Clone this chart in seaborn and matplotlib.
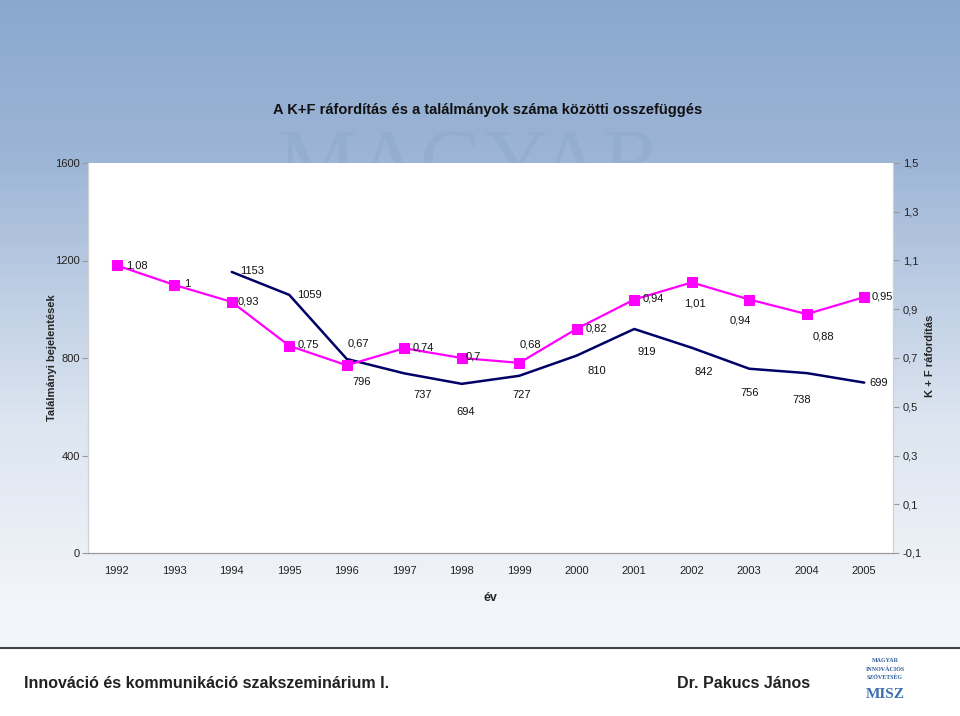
import matplotlib
matplotlib.use('Agg')
import matplotlib.pyplot as plt
import matplotlib.colors as mcolors
import seaborn as sns
import pandas as pd
import numpy as np

# adatok
evek = list(range(1992, 2006))
bejelentesek = [np.nan, np.nan, 1153, 1059, 796, 737, 694, 727, 810, 919, 842, 756, 738, 699]
kf_raf = [1.08, 1.0, 0.93, 0.75, 0.67, 0.74, 0.7, 0.68, 0.82, 0.94, 1.01, 0.94, 0.88, 0.95]
bal_tengely = [0, 400, 800, 1200, 1600]
jobb_tengely = [-0.1, 0.1, 0.3, 0.5, 0.7, 0.9, 1.1, 1.3, 1.5]

# cimkek eltolasa (pixel)
kf_off = [(20, 0), (13, 1), (17, 0), (19, 1), (12, 22), (19, 1), (12, 1), (11, 18),
          (20, 0), (19, 1), (3, -21), (-9, -21), (17, -22), (18, 1)]
bej_off = [None, None, (20, 1), (20, 0), (15, -23), (18, -22), (4, -28), (2, -19),
           (20, -15), (12, -23), (12, -24), (0, -24), (-5, -27), (14, 0)]

df = pd.DataFrame({'ev': evek, 'bejelentes': bejelentesek, 'kf': kf_raf})

sns.set_style('white')
betu = ['Liberation Sans', 'DejaVu Sans']
serif = ['Liberation Serif', 'DejaVu Serif']
plt.rcParams['font.family'] = betu
cimke_meret = 8

fig = plt.figure(figsize=(9.6, 7.16), dpi=100)

# hatter szinatmenet
bg = fig.add_axes([0, 0, 1, 1], zorder=0)
bg.axis('off')
cmap = mcolors.LinearSegmentedColormap.from_list(
    'hatter', [(0.0, '#8aa8cf'), (0.22, '#9db5d6'), (0.58, '#dbe4f0'), (0.84, '#f2f5f9'), (1.0, '#f5f7fa')])
grad = np.linspace(0, 1, 300).reshape(-1, 1)
bg.imshow(grad, aspect='auto', cmap=cmap, extent=[0, 1, 0, 1], origin='upper')
bg.set_xlim(0, 1)
bg.set_ylim(0, 1)
bg.axhspan(0, 1 - 648 / 716, color='white')
bg.axhline(1 - 648 / 716, color='#444444', lw=1.5)
bg.text(470 / 960, 1 - 168 / 716, 'MAGYAR', fontsize=64, family=serif,
        color='#7b97bf', alpha=0.2, ha='center', va='center')
bg.text(24 / 960, 1 - 683 / 716, 'Innováció és kommunikáció szakszeminárium I.',
        fontsize=11.5, fontweight='bold', color='#222222', ha='left', va='center')
bg.text(677 / 960, 1 - 683 / 716, 'Dr. Pakucs János',
        fontsize=11.5, fontweight='bold', color='#222222', ha='left', va='center')
for i, t in enumerate(['MAGYAR', 'INNOVÁCIÓS', 'SZÖVETSÉG']):
    bg.text(885 / 960, 1 - (661 + i * 8) / 716, t, fontsize=4.3, family=serif,
            fontweight='bold', color='#2a5a9a', ha='center', va='center')
bg.text(885 / 960, 1 - 694 / 716, 'MISZ', fontsize=11, family=serif,
        fontweight='bold', color='#3a70b0', ha='center', va='center')

# fo diagram
ax = fig.add_axes([88 / 960, 1 - 553 / 716, 805 / 960, 390 / 716], zorder=2)
ax.set_facecolor('white')
sns.lineplot(data=df, x='ev', y='bejelentes', ax=ax, color='#000066', lw=1.8)
ax2 = ax.twinx()
sns.lineplot(data=df, x='ev', y='kf', ax=ax2, color='#ff00ff', lw=1.6, marker='s',
             markersize=7, markeredgecolor='#ff00ff')

ax.set_xlim(1991.5, 2005.5)
ax.set_ylim(0, 1600)
ax2.set_ylim(-0.1, 1.5)
ax.set_xticks(evek)
ax.set_xticklabels([str(e) for e in evek], fontsize=cimke_meret)
ax.set_xticks(np.arange(1991.5, 2006, 1), minor=True)
ax.tick_params(axis='x', which='major', length=0, pad=9, colors='#222222')
ax.tick_params(axis='x', which='minor', length=4, width=0.8, color='#999999', direction='out')
ax.set_yticks(bal_tengely)
ax.set_yticklabels([str(v) for v in bal_tengely], fontsize=cimke_meret)
ax.tick_params(axis='y', length=4, width=0.8, color='#999999', pad=2, labelcolor='#222222', left=True)
ax2.set_yticks(jobb_tengely)
ax2.set_yticklabels([f'{v:.1f}'.replace('.', ',') for v in jobb_tengely], fontsize=cimke_meret)
ax2.tick_params(axis='y', length=4, width=0.8, color='#999999', pad=3, labelcolor='#222222', right=True)

for a in (ax, ax2):
    a.spines['top'].set_visible(False)
    a.spines['left'].set_color('#d0d0d0')
    a.spines['right'].set_color('#d0d0d0')
    a.spines['bottom'].set_color('#999999')
    for s in a.spines.values():
        s.set_linewidth(0.8)

ax.set_xlabel('év', fontweight='bold', fontsize=9, labelpad=12)
ax.set_ylabel('Találmányi bejelentések', fontweight='bold', fontsize=8)
ax.yaxis.set_label_coords(-0.045, 0.5)
ax.yaxis.label.set_va('center')
ax2.set_ylabel('K + F ráfordítás', fontweight='bold', fontsize=8, rotation=90)
ax2.yaxis.set_label_coords(1.046, 0.505)
ax2.yaxis.label.set_va('center')

# adatcimkek
for e, v, off in zip(evek, kf_raf, kf_off):
    ax2.annotate(f'{v:g}'.replace('.', ','), (e, v), xytext=off, textcoords='offset pixels',
                 ha='center', va='center', fontsize=cimke_meret, color='#111111')
for e, v, off in zip(evek, bejelentesek, bej_off):
    if off is None or np.isnan(v):
        continue
    ax.annotate(str(int(v)), (e, v), xytext=off, textcoords='offset pixels',
                ha='center', va='center', fontsize=cimke_meret, color='#111111')

fig.text(488 / 960, 1 - 110 / 716, 'A K+F ráfordítás és a találmányok száma közötti osszefüggés',
         ha='center', va='center', fontsize=10.5, fontweight='bold', color='#111111')

fig.savefig('out.png', dpi=100)
